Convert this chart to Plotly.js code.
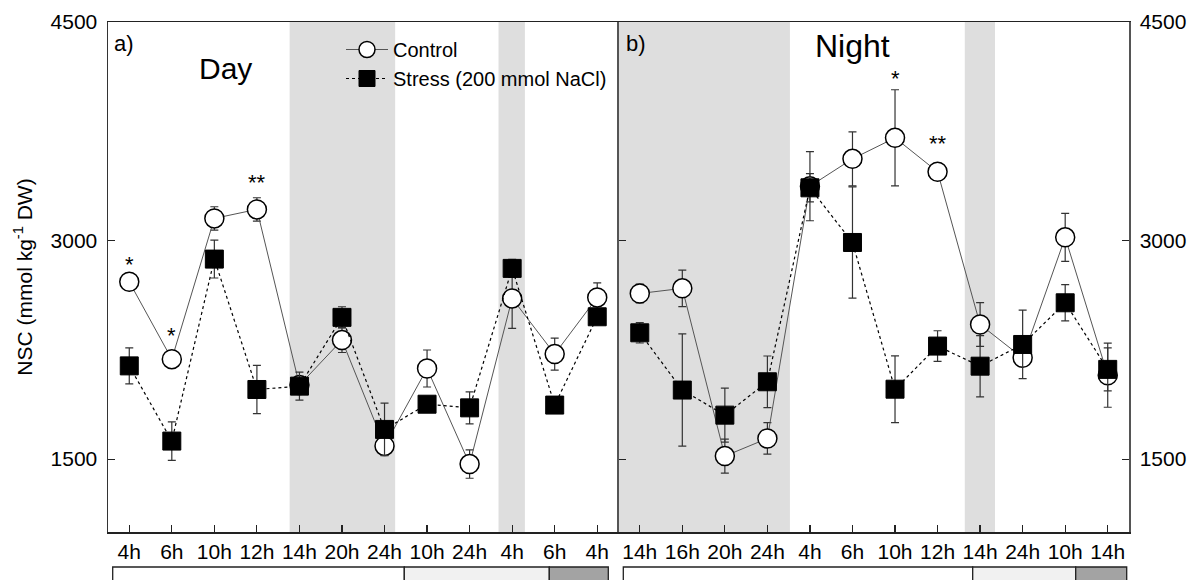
<!DOCTYPE html>
<html>
<head>
<meta charset="utf-8">
<script src="https://cdn.plot.ly/plotly-3.0.1.min.js"></script>
<style>html,body{margin:0;padding:0;background:#fff;}#chart{width:1189px;height:580px;}</style>
</head>
<body>
<div id="chart"></div>
<script>
// ---- data ----
const dayTicks = ['4h','6h','10h','12h','14h','20h','24h','10h','24h','4h','6h','4h'];
const nightTicks = ['14h','16h','20h','24h','4h','6h','10h','12h','14h','24h','10h','14h'];

const dayControl    = [2717, 2186, 3152, 3214, 2008, 2317, 1591, 2122, 1466, 2603, 2221, 2610];
const dayControlErr = [45, 40, 80, 80, 40, 85, 15, 127, 97, 206, 110, 100];
const dayStress     = [2140, 1624, 2873, 1978, 2001, 2473, 1704, 1877, 1852, 2809, 1871, 2477];
const dayStressErr  = [124, 132, 130, 166, 96, 73, 180, 30, 110, 62, 30, 30];

const nightControl    = [2637, 2672, 1521, 1642, 3373, 3561, 3705, 3472, 2424, 2195, 3022, 2076];
const nightControlErr = [64, 125, 117, 108, 237, 185, 330, 20, 150, 40, 165, 220];
const nightStress     = [2367, 1974, 1802, 2031, 3362, 2987, 1980, 2276, 2138, 2287, 2573, 2116];
const nightStressErr  = [70, 385, 185, 177, 97, 382, 229, 105, 210, 235, 124, 148];

const daySigX = [0, 1, 3];
const daySigY = [2886, 2397, 3444];
const daySigText = ['*', '*', '**'];
const nightSigX = [6, 7];
const nightSigY = [4163, 3717];
const nightSigText = ['*', '**'];

// dark periods (shaded), in category-index units
const dayShade = [[3.77, 6.25], [8.68, 9.3]];
const nightShade = [[-0.5, 3.53], [7.64, 8.35]];

const yTicks = [1500, 3000, 4500];
// ---- end data ----

const FONT = 'Liberation Sans, Arial, Helvetica, sans-serif';
const idx = dayTicks.map((_, i) => i);

const ctrlStyle = {
  mode: 'lines+markers',
  line: {color: '#555', width: 1},
  marker: {symbol: 'circle', size: 19, color: '#fff', line: {color: '#000', width: 1.5}}
};
const strStyle = {
  mode: 'lines+markers',
  line: {color: '#000', width: 1.2, dash: 'dot'},
  marker: {symbol: 'square', size: 18, color: '#000', line: {color: '#000', width: 1}}
};
const errStyle = {type: 'data', visible: true, color: '#333', thickness: 1.2, width: 4};

const traces = [
  Object.assign({x: idx, y: dayControl, name: 'Control', xaxis: 'x', yaxis: 'y',
    error_y: Object.assign({array: dayControlErr}, errStyle)}, ctrlStyle),
  Object.assign({x: idx, y: dayStress, name: 'Stress (200 mmol NaCl)', xaxis: 'x', yaxis: 'y',
    error_y: Object.assign({array: dayStressErr}, errStyle)}, strStyle),
  Object.assign({x: idx, y: nightControl, name: 'Control', xaxis: 'x2', yaxis: 'y2', showlegend: false,
    error_y: Object.assign({array: nightControlErr}, errStyle)}, ctrlStyle),
  Object.assign({x: idx, y: nightStress, name: 'Stress (200 mmol NaCl)', xaxis: 'x2', yaxis: 'y2', showlegend: false,
    error_y: Object.assign({array: nightStressErr}, errStyle)}, strStyle)
];

const shapes = [];
dayShade.forEach(s => shapes.push({type: 'rect', xref: 'x', yref: 'y domain', x0: s[0], x1: s[1], y0: 0, y1: 1,
  fillcolor: '#dedede', line: {width: 0}, layer: 'below'}));
nightShade.forEach(s => shapes.push({type: 'rect', xref: 'x2', yref: 'y2 domain', x0: s[0], x1: s[1], y0: 0, y1: 1,
  fillcolor: '#dedede', line: {width: 0}, layer: 'below'}));

// treatment bars under the axes (paper coordinates)
const px = v => (v - 108) / 1021;
const py = v => (532 - v) / 510;
const barBoxes = [
  [112.7, 404.3, '#ffffff'], [404.3, 549.3, '#f1f1f1'], [549.3, 608.3, '#a3a3a3'],
  [623.3, 972.7, '#ffffff'], [972.7, 1075.7, '#f1f1f1'], [1075.7, 1126.7, '#a3a3a3']
];
barBoxes.forEach(b => shapes.push({type: 'rect', xref: 'paper', yref: 'paper',
  x0: px(b[0]), x1: px(b[1]), y0: py(567), y1: py(590), fillcolor: b[2],
  line: {color: '#222', width: 1.3}, layer: 'above'}));

const annotations = [];
const sigFont = {family: FONT, size: 22, color: '#000'};
daySigX.forEach((x, i) => annotations.push({xref: 'x', yref: 'y', x: x, y: daySigY[i], text: daySigText[i],
  showarrow: false, font: sigFont, yshift: -7, xanchor: 'center', yanchor: 'middle'}));
nightSigX.forEach((x, i) => annotations.push({xref: 'x2', yref: 'y2', x: x, y: nightSigY[i], text: nightSigText[i],
  showarrow: false, font: sigFont, yshift: -7, xanchor: 'center', yanchor: 'middle'}));
const lab = (x, y, t, s) => ({xref: 'paper', yref: 'paper', x: px(x), y: py(y), text: t, showarrow: false,
  xanchor: 'center', yanchor: 'middle', font: {family: FONT, size: s, color: '#000'}});
annotations.push(lab(123.5, 44, 'a)', 22));
annotations.push(lab(636, 44, 'b)', 22));
annotations.push(lab(225, 68, 'Day', 30));
annotations.push(lab(852.5, 46, 'Night', 32));

const tickFont = {family: FONT, size: 21, color: '#000'};
const xCommon = {
  range: [-0.5, 11.5], tickmode: 'array', tickvals: idx, ticks: 'inside', ticklen: 7, tickwidth: 1.2,
  tickcolor: '#222', showline: true, linecolor: '#222', linewidth: 1.5, mirror: true,
  showgrid: false, zeroline: false, tickfont: tickFont
};
const yCommon = {
  range: [1000, 4500], tickmode: 'array', tickvals: yTicks, ticks: 'inside', ticklen: 7, tickwidth: 1.2,
  tickcolor: '#222', showline: true, linewidth: 1.5, showgrid: false, zeroline: false, tickfont: tickFont,
  ticklabelstandoff: 5
};

const layout = {
  width: 1189, height: 580,
  margin: {l: 108, r: 60, t: 22, b: 48},
  paper_bgcolor: '#fff', plot_bgcolor: '#fff',
  font: {family: FONT, color: '#000'},
  showlegend: true,
  legend: {x: px(341), y: py(30), xanchor: 'left', yanchor: 'top', bgcolor: 'rgba(0,0,0,0)',
    font: {family: FONT, size: 20, color: '#000'}, tracegroupgap: 0, itemwidth: 42},
  xaxis: Object.assign({}, xCommon, {domain: [0, 0.5], anchor: 'y', ticktext: dayTicks}),
  xaxis2: Object.assign({}, xCommon, {domain: [0.5, 1], anchor: 'y2', ticktext: nightTicks}),
  yaxis: Object.assign({}, yCommon, {anchor: 'x', linecolor: '#333', mirror: false,
    title: {text: 'NSC (mmol kg<sup>-1</sup> DW)', font: {family: FONT, size: 21, color: '#000'}, standoff: 12}}),
  yaxis2: Object.assign({}, yCommon, {anchor: 'x2', side: 'right', linecolor: '#555', mirror: 'ticks'}),
  shapes: shapes,
  annotations: annotations
};

Plotly.newPlot('chart', traces, layout, {displayModeBar: false, staticPlot: true});
</script>
</body>
</html>
